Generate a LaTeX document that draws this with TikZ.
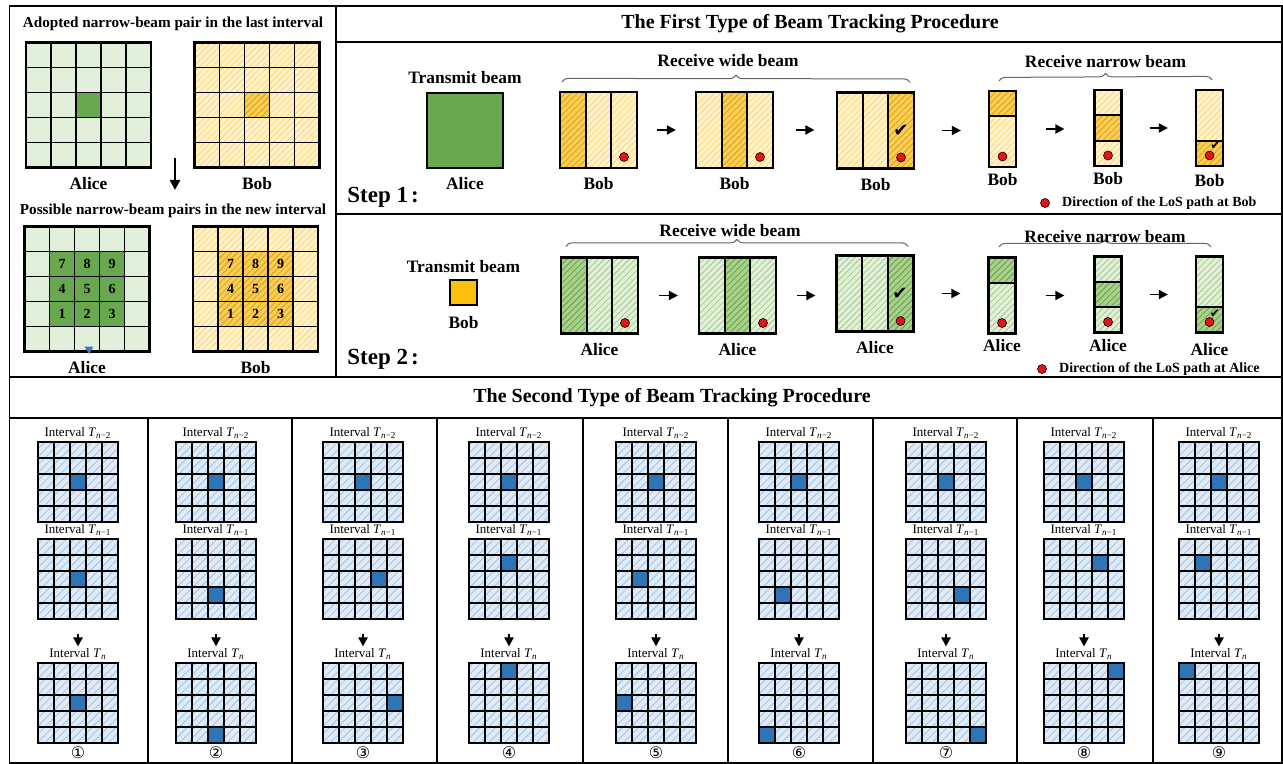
\documentclass[tikz,border=0pt]{standalone}
\usepackage{fontspec}
\setmainfont{Liberation Serif}
\newfontfamily\glyphfont{DejaVu Sans}
\usetikzlibrary{positioning,arrows.meta,patterns.meta,decorations.pathreplacing,shapes.geometric}

\definecolor{greenlight}{RGB}{226,239,218}
\definecolor{greendark}{RGB}{106,168,79}
\definecolor{greenhatch}{RGB}{160,205,130}
\definecolor{greenhitfill}{RGB}{169,209,142}
\definecolor{greenhithatch}{RGB}{100,160,62}
\definecolor{yellowlight}{RGB}{255,242,204}
\definecolor{yellowhatch}{RGB}{255,214,110}
\definecolor{yellowhitfill}{RGB}{250,205,85}
\definecolor{yellowhithatch}{RGB}{214,160,20}
\definecolor{yellowsolid}{RGB}{252,192,16}
\definecolor{bluelight}{RGB}{222,235,247}
\definecolor{bluehatch}{RGB}{157,195,230}
\definecolor{bluedark}{RGB}{46,117,182}
\definecolor{losred}{RGB}{230,20,20}
\definecolor{markblue}{RGB}{68,114,196}

\tikzset{
    >={Triangle[length=4.5pt,width=4.5pt]},
    panel/.style = {draw, line width=0.6pt},
    gridframe/.style = {draw, line width=1.1pt, inner sep=0pt},
    beambox/.style = {draw, line width=1.1pt, inner sep=0pt},
    cellline/.style = {line width=0.95pt},
    hatched/.style 2 args = {preaction={fill=#1},
        pattern={Lines[angle=45,distance=2.2pt,line width=0.4pt]}, pattern color=#2},
    greencell/.style = {fill=greenlight},
    greenhit/.style = {fill=greendark},
    yellowcell/.style = {hatched={yellowlight}{yellowhatch}},
    yellowhit/.style = {hatched={yellowhitfill}{yellowhithatch}},
    greenstrip/.style = {hatched={greenlight}{greenhatch}},
    greenstriphit/.style = {hatched={greenhitfill}{greenhithatch}},
    bluecell/.style = {preaction={fill=bluelight},
        pattern={Lines[angle=45,distance=2.8pt,line width=0.4pt]}, pattern color=bluehatch},
    bluehit/.style = {fill=bluedark},
    headline/.style = {font=\bfseries\fontsize{10}{12}\selectfont, inner sep=0.5pt},
    subtitle/.style = {font=\bfseries\fontsize{7.6}{9}\selectfont, inner sep=0.5pt},
    lbl/.style = {font=\bfseries\fontsize{8.7}{10}\selectfont, inner sep=0.5pt},
    steplbl/.style = {font=\bfseries\fontsize{11.5}{13}\selectfont, inner sep=0.5pt},
    legendtext/.style = {font=\bfseries\fontsize{7}{8}\selectfont, inner sep=0.5pt},
    cellnum/.style = {font=\bfseries\fontsize{7}{8}\selectfont, inner sep=0pt},
    intlbl/.style = {font=\fontsize{6.5}{7.5}\selectfont, inner sep=0.5pt},
    circnum/.style = {font=\glyphfont\fontsize{8}{9}\selectfont, inner sep=0.5pt},
    okmark/.style = {font=\glyphfont\fontsize{9}{10}\selectfont, inner sep=0pt},
    smallokmark/.style = {font=\glyphfont\fontsize{6}{7}\selectfont, inner sep=0pt},
    losdot/.style = {circle, draw, line width=0.3pt, fill=losred, inner sep=0pt, minimum size=4.5pt},
    dirtip/.style = {regular polygon, regular polygon sides=3, shape border rotate=180,
        fill=markblue, inner sep=0pt, minimum size=5pt},
    hop/.style = {->, line width=0.9pt, shorten <=#1, shorten >=#1},
    drop/.style = {->, line width=1pt, shorten <=7pt, shorten >=0.5pt},
    bigdrop/.style = {-{Triangle[length=5pt,width=5pt]}, line width=1.2pt},
    groupbrace/.style = {decorate, decoration={brace, amplitude=3.5pt}, draw=black!60, line width=0.5pt},
    pics/cellgrid/.style n args = {4}{code={
        \foreach \r in {1,...,5}
            \foreach \c in {1,...,5}
                \path[#2] ({(\c-3.5)*#1},{(\r-3.5)*#1}) rectangle ++(#1,#1);
        \foreach \r/\c in {#4}
            \path[#3] ({(\c-3.5)*#1},{(\r-3.5)*#1}) rectangle ++(#1,#1);
        \foreach \i in {1,...,4}
            \draw[cellline] ({(\i-2.5)*#1},{-2.5*#1}) -- ++(0,{5*#1})
                            ({-2.5*#1},{(\i-2.5)*#1}) -- ++({5*#1},0);
        \node[gridframe, minimum size={2.5pt*#1}] (-box) at (0,0) {};
    }},
    pics/widebeam/.style n args = {3}{code={
        \foreach \k in {1,2,3}
            \path[#1] ({-38.5+(\k-1)*77/3},-38) rectangle ++({77/3},76);
        \path[#2] ({-38.5+(#3-1)*77/3},-38) rectangle ++({77/3},76);
        \draw[cellline] ({-38.5+77/3},-38) -- ++(0,76) ({-38.5+154/3},-38) -- ++(0,76);
        \node[beambox, minimum width=38.5pt, minimum height=38pt] (-box) at (0,0) {};
    }},
    pics/narrowbeam/.style n args = {3}{code={
        \path[#1] (-13.5,-38) rectangle (13.5,38);
        \path[#2] (-13.5,{-38+(#3-1)*76/3}) rectangle ++(27,{76/3});
        \draw[cellline] (-13.5,{-38+(#3-1)*76/3}) -- ++(27,0) ++(-27,{76/3}) -- ++(27,0);
        \node[beambox, minimum width=13.5pt, minimum height=38pt] (-box) at (0,0) {};
    }},
}

\begin{document}
\begin{tikzpicture}[x=0.5pt, y=-0.5pt]
\useasboundingbox (0,0) rectangle (1283,764);

% frames
\draw[panel] (9.5,6) rectangle (1282,763);
\draw[panel] (336,6) -- (336,377);
\draw[panel] (336,42) -- (1282,42) (336,214) -- (1282,214);
\draw[panel] (9.5,377) -- (1282,377) (9.5,418) -- (1282,418);
\foreach \xs in {148,292,437,583,728,873,1017,1153}
    \draw[panel] (\xs,418) -- (\xs,763);

% left panel
\node[subtitle] (lasttitle) at (173,24) {Adopted narrow-beam pair in the last interval};
\pic (alast) at (88.5,105) {cellgrid={25}{greencell}{greenhit}{3/3}};
\pic (blast) at (257,105) {cellgrid={25}{yellowcell}{yellowhit}{3/3}};
\node[lbl, below=3.5pt of alast-box] (alastlbl) {Alice};
\node[lbl, below=3.5pt of blast-box] (blastlbl) {Bob};
\coordinate (dropA) at (175,158);
\coordinate (dropB) at (175,190);
\draw[bigdrop] (dropA) -- (dropB);

\node[subtitle] (newtitle) at (173,211) {Possible narrow-beam pairs in the new interval};
\pic (anew) at (87,289) {cellgrid={25}{greencell}{greenhit}{2/2,2/3,2/4,3/2,3/3,3/4,4/2,4/3,4/4}};
\pic (bnew) at (255.5,289) {cellgrid={25}{yellowcell}{yellowhit}{2/2,2/3,2/4,3/2,3/3,3/4,4/2,4/3,4/4}};
\foreach \g in {anew,bnew}
    \foreach \n/\r/\c in {7/2/2,8/2/3,9/2/4,4/3/2,5/3/3,6/3/4,1/4/2,2/4/3,3/4/4}
        \node[cellnum] (\g\n) at ([shift={({(\c-3)*25},{(\r-3)*25})}]\g-box.center) {\n};
\node[dirtip] (anewtip) at ([xshift=1pt,yshift=1.75pt]anew-box.south) {};
\node[lbl, below=3.5pt of anew-box] (anewlbl) {Alice};
\node[lbl, below=3.5pt of bnew-box] (bnewlbl) {Bob};

% first type, step 1
\node[headline] (firsttitle) at (810,24) {The First Type of Beam Tracking Procedure};
\node[beambox, fill=greendark, minimum width=38pt, minimum height=37.5pt] (tx1) at (465,130.5) {};
\node[lbl, above=3.5pt of tx1] (tx1top) {Transmit beam};
\node[lbl, below=3.5pt of tx1] (tx1lbl) {Alice};
\pic (bw1) at (598.5,130) {widebeam={yellowcell}{yellowhit}{1}};
\pic (bw2) at (734.5,130) {widebeam={yellowcell}{yellowhit}{2}};
\pic (bw3) at (875.5,130.5) {widebeam={yellowcell}{yellowhit}{3}};
\pic (bn1) at (1002.5,129) {narrowbeam={yellowcell}{yellowhit}{1}};
\pic (bn2) at (1108,128) {narrowbeam={yellowcell}{yellowhit}{2}};
\pic (bn3) at (1209.5,128) {narrowbeam={yellowcell}{yellowhit}{3}};
\foreach \b in {bw1,bw2,bw3} {
    \node[lbl, below=3.5pt of \b-box] (\b lbl) {Bob};
    \node[losdot] (\b dot) at ([shift={(25.5,27)}]\b-box.center) {};
}
\foreach \b/\gap in {bn1/2pt,bn2/2pt,bn3/3pt} {
    \node[lbl, below=\gap of \b-box] (\b lbl) {Bob};
    \node[losdot] (\b dot) at ([shift={(0,27.5)}]\b-box.center) {};
}
\node[okmark] (bw3ok) at ([shift={(25.5,0)}]bw3-box.center) {✔};
\node[smallokmark] (bn3ok) at ([shift={(6,18)}]bn3-box.center) {✔};
\draw[hop=9.5pt] (bw1-box.east) -- (bw1-box.east -| bw2-box.west);
\draw[hop=10.75pt] (bw2-box.east) -- (bw2-box.east -| bw3-box.west);
\draw[hop=13.5pt] (bw3-box.east) -- (bw3-box.east -| bn1-box.west);
\draw[hop=14.5pt] (bn1-box.east) -- (bn1-box.east -| bn2-box.west);
\draw[hop=13.5pt] (bn2-box.east) -- (bn2-box.east -| bn3-box.west);
\draw[groupbrace] ([xshift=1.5pt,yshift=4.5pt]bw1-box.north west) -- ([xshift=-2.5pt,yshift=4.5pt]bw3-box.north east)
    node[lbl, midway, above=7pt, xshift=-4pt] (bwide) {Receive wide beam};
\draw[groupbrace] ([xshift=5.5pt,yshift=4.5pt]bn1-box.north west) -- ([xshift=-6pt,yshift=4.5pt]bn3-box.north east)
    node[lbl, midway, above=5.5pt] (bnarrow) {Receive narrow beam};
\node[losdot] (bobkeydot) at (1045,203) {};
\node[legendtext, right=5.5pt of bobkeydot] (bobkey) {Direction of the LoS path at Bob};
\node[steplbl, anchor=west] (step1) at (346,197) {Step 1\kern1.5pt:};

% first type, step 2
\node[beambox, fill=yellowsolid, minimum width=13.5pt, minimum height=12.5pt] (tx2) at (463.5,292.5) {};
\node[lbl, above=2.5pt of tx2] (tx2top) {Transmit beam};
\node[lbl, below=4.5pt of tx2] (tx2lbl) {Bob};
\pic (aw1) at (599.5,295.5) {widebeam={greenstrip}{greenstriphit}{1}};
\pic (aw2) at (737.5,295.5) {widebeam={greenstrip}{greenstriphit}{2}};
\pic (aw3) at (875,293.5) {widebeam={greenstrip}{greenstriphit}{3}};
\pic (an1) at (1002,295.5) {narrowbeam={greenstrip}{greenstriphit}{1}};
\pic (an2) at (1108,294.5) {narrowbeam={greenstrip}{greenstriphit}{2}};
\pic (an3) at (1209.5,294.5) {narrowbeam={greenstrip}{greenstriphit}{3}};
\foreach \b in {aw1,aw2,aw3} {
    \node[lbl, below=3.5pt of \b-box] (\b lbl) {Alice};
    \node[losdot] (\b dot) at ([shift={(25.5,27.5)}]\b-box.center) {};
}
\foreach \b/\gap in {an1/1.5pt,an2/2pt,an3/4pt} {
    \node[lbl, below=\gap of \b-box] (\b lbl) {Alice};
    \node[losdot] (\b dot) at ([shift={(0,27.5)}]\b-box.center) {};
}
\node[okmark] (aw3ok) at ([shift={(25,0)}]aw3-box.center) {✔};
\node[smallokmark] (an3ok) at ([shift={(5.5,19)}]an3-box.center) {✔};
\draw[hop=10pt] (aw1-box.east) -- (aw1-box.east -| aw2-box.west);
\draw[hop=10pt] (aw2-box.east) -- (aw2-box.east -| aw3-box.west);
\draw[hop=13.5pt] (aw3-box.east) -- (aw3-box.east -| an1-box.west);
\draw[hop=14.5pt] (an1-box.east) -- (an1-box.east -| an2-box.west);
\draw[hop=13.5pt] (an2-box.east) -- (an2-box.east -| an3-box.west);
\draw[groupbrace] ([xshift=3pt,yshift=5pt]aw1-box.north west) -- ([xshift=-3.25pt,yshift=4pt]aw3-box.north east)
    node[lbl, midway, above=4pt, xshift=-3.5pt] (awide) {Receive wide beam};
\draw[groupbrace] ([xshift=5.75pt,yshift=4.75pt]an1-box.north west) -- ([xshift=-6.5pt,yshift=4.25pt]an3-box.north east)
    node[lbl, midway, above=1.5pt] (anarrow) {Receive narrow beam};
\node[losdot] (alicekeydot) at (1042,369) {};
\node[legendtext, right=5.5pt of alicekeydot] (alicekey) {Direction of the LoS path at Alice};
\node[steplbl, anchor=west] (step2) at (346,359) {Step 2\kern1.5pt:};

% second type
\node[headline] (secondtitle) at (672,398) {The Second Type of Beam Tracking Procedure};
\foreach \k/\x/\pr/\pc/\nr/\nc/\sym in {1/78/3/3/3/3/①, 2/216/4/3/5/3/②, 3/363/3/4/3/5/③,
        4/509/2/3/1/3/④, 5/656/3/2/3/1/⑤, 6/799/4/2/5/1/⑥, 7/946/4/4/5/5/⑦,
        8/1084/2/4/1/5/⑧, 9/1219/2/2/1/1/⑨} {
    \pic (top\k) at (\x,482) {cellgrid={16}{bluecell}{bluehit}{3/3}};
    \pic (mid\k) at (\x,579) {cellgrid={16}{bluecell}{bluehit}{\pr/\pc}};
    \pic (now\k) at (\x,703) {cellgrid={16}{bluecell}{bluehit}{\nr/\nc}};
    \node[intlbl, above=0.3pt of top\k-box] (ltop\k) {Interval \textit{T}\textsubscript{\textit{n}−2}};
    \node[intlbl, above=0.3pt of mid\k-box] (lmid\k) {Interval \textit{T}\textsubscript{\textit{n}−1}};
    \node[intlbl, above=0.3pt of now\k-box] (lnow\k) {Interval \textit{T}\textsubscript{\textit{n}}};
    \draw[drop] (mid\k-box.south) -- (lnow\k.north);
    \node[circnum, below=0.5pt of now\k-box] (tag\k) {\sym};
}
\end{tikzpicture}
\end{document}
